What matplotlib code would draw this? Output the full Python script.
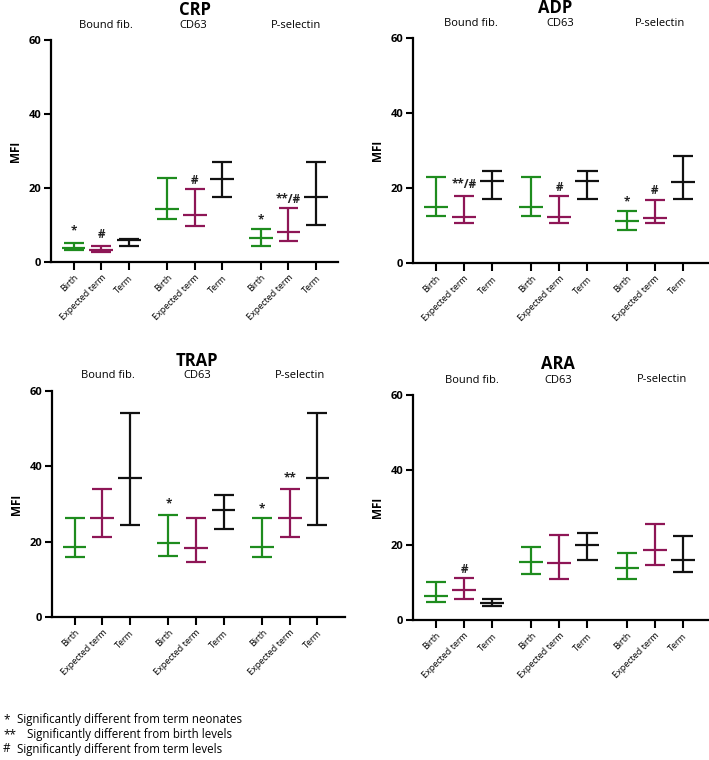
import numpy as np
import matplotlib
matplotlib.use("Agg")
import matplotlib.pyplot as plt

plt.rcParams['font.family'] = ['Open Sans', 'DejaVu Sans']

W, H = 709, 760

# Data: (top, median, bottom) for each of the 9 bars, order:
# Bound fib. (Birth, Expected term, Term), CD63 (...), P-selectin (...)
crp_top = [5.2, 4.3, 6.3, 22.8, 19.6, 26.9, 9.0, 14.7, 26.9]
crp_med = [3.9, 3.2, 5.9, 14.2, 12.8, 22.3, 6.5, 8.1, 17.6]
crp_low = [3.2, 2.6, 4.4, 11.7, 9.6, 17.5, 4.3, 5.7, 10.0]

adp_top = [22.9, 18.0, 24.6, 22.9, 18.0, 24.6, 13.8, 16.8, 28.6]
adp_med = [14.9, 12.2, 21.9, 14.9, 12.2, 21.9, 11.1, 12.1, 21.5]
adp_low = [12.6, 10.6, 17.0, 12.6, 10.6, 17.0, 8.9, 10.6, 17.0]

trap_top = [26.3, 34.1, 54.1, 27.0, 26.4, 32.4, 26.3, 34.1, 54.1]
trap_med = [18.6, 26.2, 37.0, 19.6, 18.3, 28.4, 18.6, 26.2, 37.0]
trap_low = [15.9, 21.2, 24.4, 16.3, 14.5, 23.4, 15.9, 21.2, 24.4]

ara_top = [10.2, 11.1, 5.7, 19.6, 22.8, 23.1, 17.8, 25.6, 22.4]
ara_med = [6.5, 8.0, 4.6, 15.6, 15.2, 20.0, 14.0, 18.6, 16.0]
ara_low = [4.9, 5.5, 3.7, 12.4, 11.0, 16.0, 11.0, 14.6, 12.9]

# significance marks: (bar index, y, text)
crp_marks = [(0, 8.4, '*'), (1, 7.4, '#'), (4, 22.0, '#'), (6, 11.3, '*'), (7, 17.0, '**/#')]
adp_marks = [(1, 20.8, '**/#'), (4, 20.2, '#'), (6, 16.2, '*'), (7, 19.3, '#')]
trap_marks = [(3, 30.0, '*'), (6, 28.8, '*'), (7, 37.0, '**')]
ara_marks = [(1, 13.5, '#')]

tick_labels = ['Birth', 'Expected term', 'Term'] * 3
groups = ['Bound fib.', 'CD63', 'P-selectin']
colors = ['#1e8c1e', '#8e1656', '#111111'] * 3
xpos = np.array([0, 1, 2, 3.4, 4.4, 5.4, 6.8, 7.8, 8.8])

fig = plt.figure(figsize=(W / 100, H / 100), dpi=100)


def px_axes(l, r, t, b):
    return fig.add_axes([l / W, 1 - b / H, (r - l) / W, (b - t) / H])


def ftext(x, y, s, **kw):
    fig.text(x / W, 1 - y / H, s, ha='center', va='center', **kw)


def panel(ax, top, med, low, marks, xmax):
    for i in range(9):
        x = xpos[i]
        c = colors[i]
        ax.vlines(x, low[i], top[i], color=c, lw=1.6)
        ax.hlines([low[i], top[i]], x - 0.36, x + 0.36, color=c, lw=1.6)
        ax.hlines(med[i], x - 0.43, x + 0.43, color=c, lw=1.6)
    for i, y, s in marks:
        ax.text(xpos[i], y, s, ha='center', va='center', fontsize=8.5,
                fontweight='bold', color='#222222')
    ax.set_ylim(0, 60)
    ax.set_xlim(-0.82, xmax)
    ax.set_yticks([0, 20, 40, 60])
    ax.set_xticks(xpos)
    ax.set_xticklabels(tick_labels, rotation=45, ha='right',
                       rotation_mode='anchor', fontsize=6.5)
    for lab in ax.get_yticklabels():
        lab.set_fontweight('bold')
        lab.set_fontsize(8)
    ax.spines['top'].set_visible(False)
    ax.spines['right'].set_visible(False)
    ax.spines['left'].set_linewidth(1.6)
    ax.spines['bottom'].set_linewidth(1.6)
    ax.tick_params(axis='both', direction='out', length=5, width=1.5, pad=2)
    ax.tick_params(axis='x', length=6)
    ax.set_ylabel('MFI', fontsize=8.5, fontweight='bold', labelpad=5)


ax1 = px_axes(51, 338, 40, 262)
panel(ax1, crp_top, crp_med, crp_low, crp_marks, 9.6)
ax2 = px_axes(413, 708, 38, 263)
panel(ax2, adp_top, adp_med, adp_low, adp_marks, 9.7)
ax3 = px_axes(52, 345, 391, 617)
panel(ax3, trap_top, trap_med, trap_low, trap_marks, 9.8)
ax4 = px_axes(413, 708, 395, 620)
panel(ax4, ara_top, ara_med, ara_low, ara_marks, 9.7)

# titles and group headings
ftext(195, 10, 'CRP', fontsize=12, fontweight='bold')
ftext(555, 8, 'ADP', fontsize=12, fontweight='bold')
ftext(197, 361, 'TRAP', fontsize=12, fontweight='bold')
ftext(558, 364, 'ARA', fontsize=12, fontweight='bold')
for (x, y), g in zip([(106, 25), (193, 25), (296, 25)], groups):
    ftext(x, y, g, fontsize=8)
for (x, y), g in zip([(471, 23), (560, 23), (660, 23)], groups):
    ftext(x, y, g, fontsize=8)
for (x, y), g in zip([(108, 376), (197, 376), (300, 376)], groups):
    ftext(x, y, g, fontsize=8)
for (x, y), g in zip([(472, 381), (558, 381), (662, 380)], groups):
    ftext(x, y, g, fontsize=8)

# legend notes
notes = [('*', 'Significantly different from term neonates', 17),
         ('**', 'Significantly different from birth levels', 27),
         ('#', 'Significantly different from term levels', 17)]
for k, (sym, txt, tx) in enumerate(notes):
    y = 720 + 14.5 * k
    fig.text(3 / W, 1 - y / H, sym, ha='left', va='center', fontsize=8.5)
    fig.text(tx / W, 1 - y / H, txt, ha='left', va='center', fontsize=8.3)

fig.savefig('out.png', dpi=100)
